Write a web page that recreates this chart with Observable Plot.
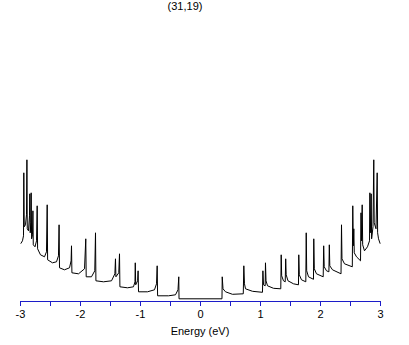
<!DOCTYPE html>
<html>
<head>
<meta charset="utf-8">
<script src="https://cdn.jsdelivr.net/npm/d3@7"></script>
<script src="https://cdn.jsdelivr.net/npm/@observablehq/plot@0.6"></script>
<style>
  html, body { margin: 0; padding: 0; background: #fff; }
  #chart { width: 409px; height: 345px; }
</style>
</head>
<body>
<div id="chart"></div>
<script>
// Chart texts
const title = "(31,19)";
const xLabel = "Energy (eV)";
const xTicks = [-3, -2.5, -2, -1.5, -1, -0.5, 0, 0.5, 1, 1.5, 2, 2.5, 3];
const xTickLabels = ["-3", "", "-2", "", "-1", "", "0", "", "1", "", "2", "", "3"];

// Density of states: energy (eV) and DOS (arbitrary units)
const energyNeg = [-2.992,-2.967,-2.950,-2.945,-2.938,-2.917,-2.900,-2.893,-2.887,-2.867,-2.850,-2.845,-2.838,-2.828,-2.822,-2.815,-2.800,-2.793,-2.787,-2.758,-2.733,-2.722,-2.715,-2.667,-2.600,-2.567,-2.555,-2.548,-2.467,-2.400,-2.367,-2.357,-2.350,-2.267,-2.183,-2.157,-2.150,-2.143,-2.033,-1.933,-1.912,-1.905,-1.817,-1.762,-1.750,-1.743,-1.617,-1.483,-1.427,-1.417,-1.410,-1.362,-1.350,-1.343,-1.217,-1.117,-1.092,-1.087,-1.080,-1.048,-1.040,-1.033,-0.883,-0.767,-0.733,-0.722,-0.715,-0.533,-0.417,-0.375,-0.362,-0.358];
const dosNeg    = [55.5,58,63,126,72,74,84,139,70,68,83,105,66,76,106,60,64,88,54,52,58,93,50,44,42,47,94,39,36,37,43,74,31,29,31,38,53,26,25,30,60,22,22,28,66,18,17,18,25,40,22,26,45,12,11,12,17,36,14,18,28,7,7,9,15,33,3,3,4,9,22,0];
const energyPos = [0.358,0.362,0.375,0.417,0.533,0.713,0.722,0.733,0.750,0.867,1.033,1.040,1.050,1.078,1.083,1.092,1.117,1.217,1.338,1.345,1.353,1.383,1.412,1.420,1.428,1.458,1.550,1.633,1.638,1.647,1.683,1.755,1.762,1.770,1.800,1.883,1.888,1.897,1.933,2.045,2.053,2.062,2.100,2.140,2.147,2.155,2.200,2.342,2.350,2.358,2.400,2.530,2.538,2.547,2.555,2.563,2.600,2.667,2.675,2.683,2.695,2.703,2.733,2.783,2.817,2.823,2.830,2.845,2.852,2.875,2.888,2.895,2.925,2.945,2.952,2.967,2.992];
const dosPos    = [0,22,10,7,4.5,5,33,15,10,7.5,6.5,28,14,13,36,18,13,10.5,10,44,23,18,17,40,24,18,15,14,44,24,19,17,66,28,22,19.5,60,30,25,22,53,32,28,27,54,33,29,25,74,40,35,32,93,53,70,46,42,38,86,58,94,54,48,52,58,106,66,105,60,72,139,76,70,126,66,60,55.5];

const data = [];
energyNeg.forEach((e, i) => data.push({energy: e, dos: dosNeg[i]}));
energyPos.forEach((e, i) => data.push({energy: e, dos: dosPos[i]}));

const font = "'Liberation Sans', Arial, sans-serif";
const blue = "#1c1cc8";

const plot = Plot.plot({
  width: 409,
  height: 345,
  marginLeft: 20,
  marginRight: 29,
  marginTop: 159,
  marginBottom: 44,
  style: {fontFamily: font, fontSize: "11px", background: "#fff", overflow: "visible"},
  x: {domain: [-3, 3]},
  y: {domain: [-2.7, 139.3], axis: null},
  marks: [
    Plot.line(data, {x: "energy", y: "dos", stroke: "#000", strokeWidth: 1, curve: "linear"}),
    Plot.frame({anchor: "bottom", stroke: blue, strokeWidth: 1}),
    Plot.axisX({
      ticks: xTicks,
      tickSize: 5,
      stroke: blue,
      color: "#000",
      tickPadding: 4,
      tickFormat: (d) => xTickLabels[xTicks.indexOf(d)],
      label: null,
      fontSize: 11
    })
  ]
});
document.getElementById("chart").appendChild(plot);

const svg = d3.select(plot);
svg.append("text")
  .attr("x", 185).attr("y", 10)
  .attr("text-anchor", "middle")
  .attr("font-family", font).attr("font-size", 11)
  .attr("fill", "#000")
  .text(title);
svg.append("text")
  .attr("x", 200).attr("y", 335)
  .attr("text-anchor", "middle")
  .attr("font-family", font).attr("font-size", 11)
  .attr("fill", "#000")
  .text(xLabel);
</script>
</body>
</html>
